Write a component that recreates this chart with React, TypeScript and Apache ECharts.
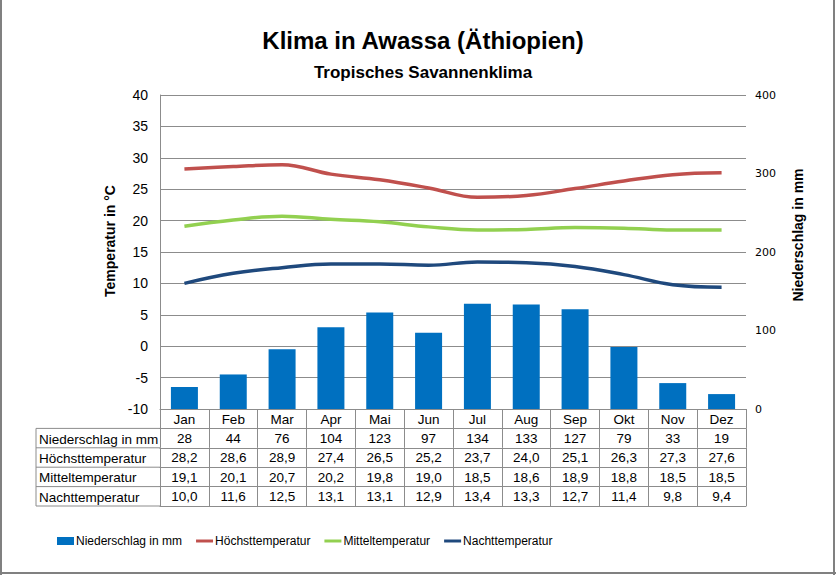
import React, { useEffect, useRef } from "react";
import * as echarts from "echarts";

const months = ["Jan", "Feb", "Mar", "Apr", "Mai", "Jun", "Jul", "Aug", "Sep", "Okt", "Nov", "Dez"];
const precipitation = [28, 44, 76, 104, 123, 97, 134, 133, 127, 79, 33, 19];
const maxTemp = [28.2, 28.6, 28.9, 27.4, 26.5, 25.2, 23.7, 24.0, 25.1, 26.3, 27.3, 27.6];
const meanTemp = [19.1, 20.1, 20.7, 20.2, 19.8, 19.0, 18.5, 18.6, 18.9, 18.8, 18.5, 18.5];
const nightTemp = [10.0, 11.6, 12.5, 13.1, 13.1, 12.9, 13.4, 13.3, 12.7, 11.4, 9.8, 9.4];
const seriesNames = ["Niederschlag in mm", "Höchsttemperatur", "Mitteltemperatur", "Nachttemperatur"];
const tempTicks = { min: -10, max: 40, interval: 5 };
const rainTicks = { min: 0, max: 400, interval: 100 };

const W = 836;
const H = 575;
const GRID_LEFT = 160;
const GRID_RIGHT = 90;
const GRID_TOP = 95;
const GRID_HEIGHT = 314;
const ROW_H = 19.4;
const TABLE_LEFT = 36;
const GRID_BOTTOM_Y = GRID_TOP + GRID_HEIGHT;

const fmt1 = (v: number) => v.toFixed(1).replace(".", ",");
const GRAY = "#8c8c8c";
const FONT = "Arial, 'Liberation Sans', sans-serif";
const TABLE_FS = 13.5;

export default function App() {
  const ref = useRef<HTMLDivElement>(null);
  useEffect(() => {
    if (!ref.current) return;
    const chart = echarts.init(ref.current, undefined, { renderer: "svg" });

    const tableRows: string[][] = [
      precipitation.map((v) => String(v)),
      maxTemp.map(fmt1),
      meanTemp.map(fmt1),
      nightTemp.map(fmt1),
    ];

    const rowAxis = (data: string[], offset: number, showLabel: boolean, showTick: boolean) => ({
      type: "category",
      gridIndex: 0,
      position: "bottom",
      offset,
      data,
      boundaryGap: true,
      axisLine: { show: true, onZero: false, lineStyle: { color: GRAY, width: 1 } },
      axisTick: { show: showTick, interval: 0, length: ROW_H, lineStyle: { color: GRAY, width: 1 } },
      axisLabel: { show: showLabel, interval: 0, margin: 3, color: "#000", fontSize: TABLE_FS, fontFamily: FONT },
      splitLine: { show: false },
    });

    const xAxes: any[] = [rowAxis(months, 0, true, true)];
    tableRows.forEach((row, i) => xAxes.push(rowAxis(row, ROW_H * (i + 1), true, true)));
    xAxes.push(rowAxis(months, ROW_H * 5, false, false));

    const graphics: any[] = [];
    for (let i = 1; i <= 5; i++) {
      const y = GRID_BOTTOM_Y + ROW_H * i;
      graphics.push({
        type: "line",
        shape: { x1: TABLE_LEFT, y1: y, x2: GRID_LEFT, y2: y },
        style: { stroke: GRAY, lineWidth: 1 },
      });
    }
    graphics.push({
      type: "line",
      shape: { x1: TABLE_LEFT, y1: GRID_BOTTOM_Y + ROW_H, x2: TABLE_LEFT, y2: GRID_BOTTOM_Y + ROW_H * 5 },
      style: { stroke: GRAY, lineWidth: 1 },
    });
    seriesNames.forEach((name, i) => {
      graphics.push({
        type: "text",
        x: TABLE_LEFT + 3,
        y: GRID_BOTTOM_Y + ROW_H * (i + 1) + ROW_H / 2 + 1,
        style: { text: name, fontSize: TABLE_FS, fontFamily: FONT, fill: "#000", verticalAlign: "middle", align: "left" },
      });
    });
    // axis names
    graphics.push({
      type: "text",
      x: 110,
      y: 241,
      rotation: Math.PI / 2,
      style: { text: "Temperatur in °C", fontSize: 14, fontWeight: "bold", fontFamily: FONT, fill: "#000", align: "center", verticalAlign: "middle" },
    });
    graphics.push({
      type: "text",
      x: 798,
      y: 235,
      rotation: Math.PI / 2,
      style: { text: "Niederschlag in mm", fontSize: 14, fontWeight: "bold", fontFamily: FONT, fill: "#000", align: "center", verticalAlign: "middle" },
    });
    // outer border (left, right, bottom)
    graphics.push({ type: "line", shape: { x1: 1, y1: 0, x2: 1, y2: H }, style: { stroke: "#808080", lineWidth: 2 } });
    graphics.push({ type: "line", shape: { x1: W - 2, y1: 0, x2: W - 2, y2: H }, style: { stroke: "#808080", lineWidth: 2 } });
    graphics.push({ type: "line", shape: { x1: 0, y1: H - 2, x2: W, y2: H - 2 }, style: { stroke: "#808080", lineWidth: 2 } });

    const lineIcon = "path://M0,0L20,0L20,3.5L0,3.5Z";

    chart.setOption({
      animation: false,
      backgroundColor: "#fff",
      title: [
        {
          text: "Klima in Awassa (Äthiopien)",
          left: 418,
          top: 23,
          textAlign: "center",
          textStyle: { fontSize: 24, fontWeight: 900, fontFamily: FONT, color: "#000" },
        },
        {
          text: "Tropisches Savannenklima",
          left: 418,
          top: 59,
          textAlign: "center",
          textStyle: { fontSize: 17, fontWeight: 900, fontFamily: FONT, color: "#000" },
        },
      ],
      legend: {
        left: 52,
        top: 530,
        itemWidth: 17,
        itemHeight: 8,
        itemGap: 14,
        textStyle: { fontSize: 12, fontFamily: FONT, color: "#000", padding: [0, 0, 0, -3] },
        data: [
          { name: seriesNames[0], icon: "rect" },
          { name: seriesNames[1], icon: lineIcon },
          { name: seriesNames[2], icon: lineIcon },
          { name: seriesNames[3], icon: lineIcon },
        ],
      },
      grid: { left: GRID_LEFT, right: GRID_RIGHT, top: GRID_TOP, height: GRID_HEIGHT, containLabel: false },
      xAxis: xAxes,
      yAxis: [
        {
          type: "value",
          min: tempTicks.min,
          max: tempTicks.max,
          interval: tempTicks.interval,
          position: "left",
          axisLine: { show: true, lineStyle: { color: GRAY } },
          axisTick: { show: false },
          axisLabel: { color: "#000", fontSize: 14, fontFamily: FONT, margin: 12 },
          splitLine: { show: true, lineStyle: { color: GRAY, width: 1 } },
        },
        {
          type: "value",
          min: rainTicks.min,
          max: rainTicks.max,
          interval: rainTicks.interval,
          position: "right",
          axisLine: { show: false },
          axisTick: { show: false },
          axisLabel: { color: "#000", fontSize: 11, fontFamily: "'DejaVu Sans', Verdana, sans-serif", margin: 9 },
          splitLine: { show: false },
        },
      ],
      series: [
        {
          name: seriesNames[0],
          type: "bar",
          xAxisIndex: 0,
          yAxisIndex: 1,
          data: precipitation,
          barWidth: 27,
          itemStyle: { color: "#0070C0" },
        },
        {
          name: seriesNames[1],
          type: "line",
          xAxisIndex: 0,
          yAxisIndex: 0,
          data: maxTemp,
          smooth: 0.4,
          showSymbol: false,
          symbol: "none",
          lineStyle: { color: "#C0504D", width: 3.5 },
          itemStyle: { color: "#C0504D" },
        },
        {
          name: seriesNames[2],
          type: "line",
          xAxisIndex: 0,
          yAxisIndex: 0,
          data: meanTemp,
          smooth: 0.4,
          showSymbol: false,
          symbol: "none",
          lineStyle: { color: "#92D050", width: 3.5 },
          itemStyle: { color: "#92D050" },
        },
        {
          name: seriesNames[3],
          type: "line",
          xAxisIndex: 0,
          yAxisIndex: 0,
          data: nightTemp,
          smooth: 0.4,
          showSymbol: false,
          symbol: "none",
          lineStyle: { color: "#1F497D", width: 3.5 },
          itemStyle: { color: "#1F497D" },
        },
      ],
      graphic: graphics,
    });

    return () => chart.dispose();
  }, []);

  return (
    <div
      ref={ref}
      style={{ position: "fixed", left: 0, top: 0, width: W, height: H, background: "#fff" }}
    />
  );
}
